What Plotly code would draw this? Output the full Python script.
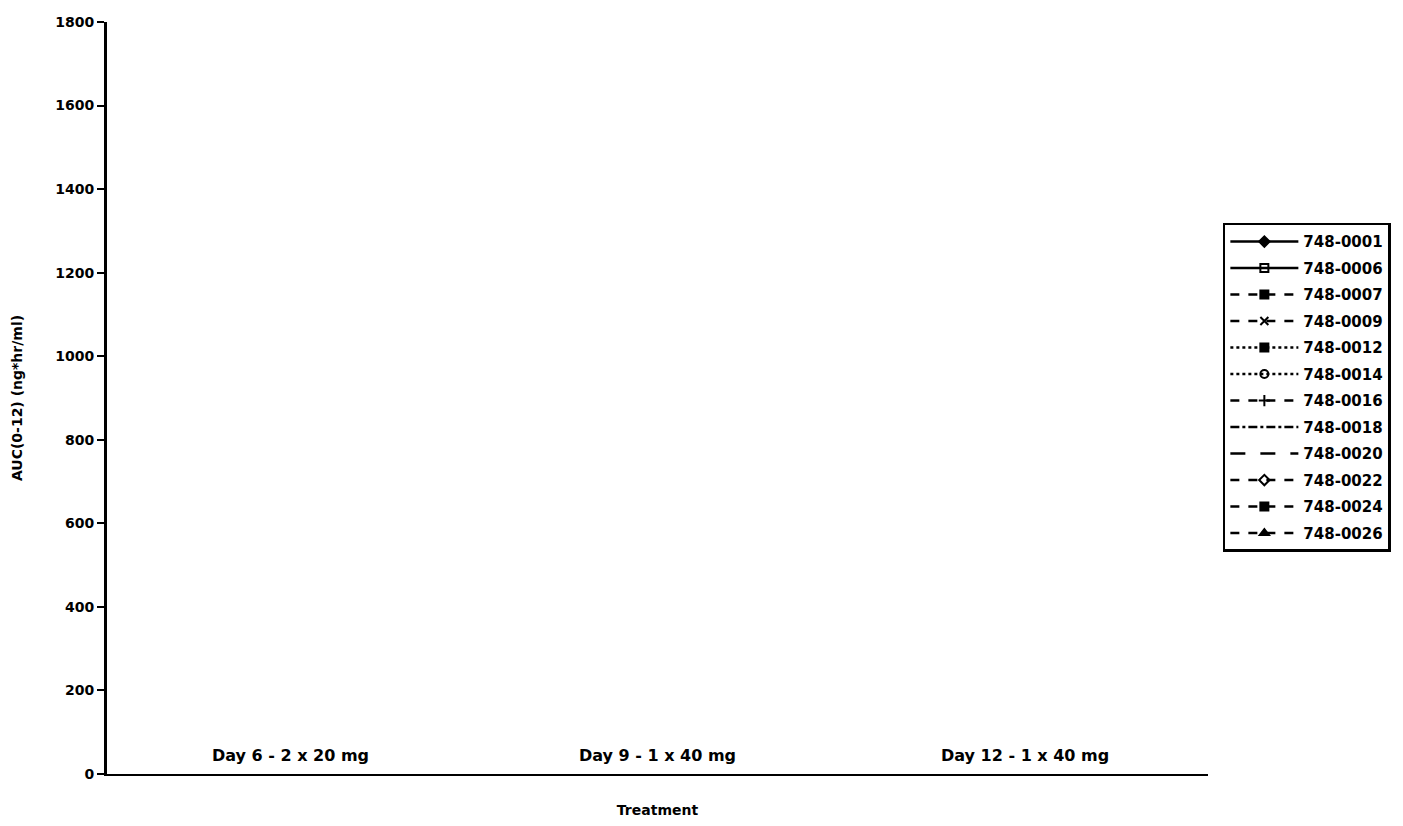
import plotly.graph_objects as go

categories = ["Day 6 - 2 x 20 mg", "Day 9 - 1 x 40 mg", "Day 12 - 1 x 40 mg"]
subjects = ["748-0001", "748-0006", "748-0007", "748-0009", "748-0012", "748-0014",
            "748-0016", "748-0018", "748-0020", "748-0022", "748-0024", "748-0026"]
# No data lines are legible in the scanned reference: values are missing.
values = {s: [None, None, None] for s in subjects}
y_ticks = [0, 200, 400, 600, 800, 1000, 1200, 1400, 1600, 1800]

styles = {
    "748-0001": ("solid", "diamond"),
    "748-0006": ("solid", "square-open"),
    "748-0007": ("dash", "square"),
    "748-0009": ("dash", "x-thin"),
    "748-0012": ("dot", "square"),
    "748-0014": ("dot", "circle-open"),
    "748-0016": ("dash", "cross-thin"),
    "748-0018": ("dashdot", None),
    "748-0020": ("longdash", None),
    "748-0022": ("dash", "diamond-open"),
    "748-0024": ("dash", "square"),
    "748-0026": ("dash", "triangle-up"),
}

font = dict(family="DejaVu Sans, Liberation Sans, Arial, sans-serif", color="black", weight="bold")

fig = go.Figure()
xpos = list(range(len(categories)))
for i, s in enumerate(subjects):
    dash, sym = styles[s]
    fig.add_trace(go.Scatter(
        x=xpos, y=values[s], name=s, legendgroup=s,
        mode="lines+markers" if sym else "lines",
        line=dict(color="black", width=2.5, dash=dash),
        marker=dict(symbol=sym or "circle", size=8, color="black",
                    line=dict(color="black", width=2)),
    ))

for i, c in enumerate(categories):
    fig.add_annotation(x=xpos[i], y=0, xref="x", yref="y", text=c, showarrow=False,
                       yanchor="bottom", yshift=7, font=dict(**font, size=16))

# page body has an 8px default margin, so the figure is offset by (8, 8)
fig.update_layout(
    width=1395, height=818,
    margin=dict(l=99, r=193, t=14, b=52),
    paper_bgcolor="white", plot_bgcolor="white",
    font=dict(**font, size=14),
    showlegend=True,
    legend=dict(x=1.0135, y=0.733, xanchor="left", yanchor="top",
                bordercolor="black", borderwidth=2.5, bgcolor="white",
                font=dict(**font, size=15), itemwidth=68, tracegroupgap=4),
    xaxis=dict(range=[-0.5, 2.5], tickvals=xpos, showticklabels=False,
               ticks="", showgrid=False, zeroline=False, automargin=False,
               showline=True, linecolor="black", linewidth=2,
               title=dict(text="Treatment", font=dict(**font, size=14), standoff=30)),
    xaxis2=dict(range=[-0.5, 2.5], overlaying="x", side="bottom", anchor="y",
                tickvals=[-0.5, 0.5, 1.5, 2.5], ticks="inside", ticklen=7,
                tickwidth=1.5, tickcolor="black", automargin=False,
                showticklabels=False, showgrid=False, zeroline=False, showline=False),
    yaxis=dict(range=[0, 1800], tickvals=y_ticks, ticks="outside", ticklen=7,
               tickwidth=2, tickcolor="black", showgrid=False, zeroline=False,
               showline=True, linecolor="black", linewidth=3, automargin=False,
               tickfont=dict(**font, size=14),
               title=dict(text="AUC(0-12) (ng*hr/ml)", font=dict(**font, size=14), standoff=30)),
    yaxis2=dict(range=[0, 1800], overlaying="y", anchor="x", side="left",
                tickvals=y_ticks, ticks="inside", ticklen=7, tickwidth=2,
                tickcolor="black", showticklabels=False, showgrid=False,
                zeroline=False, showline=False, automargin=False),
)

fig.write_html("out.html")
